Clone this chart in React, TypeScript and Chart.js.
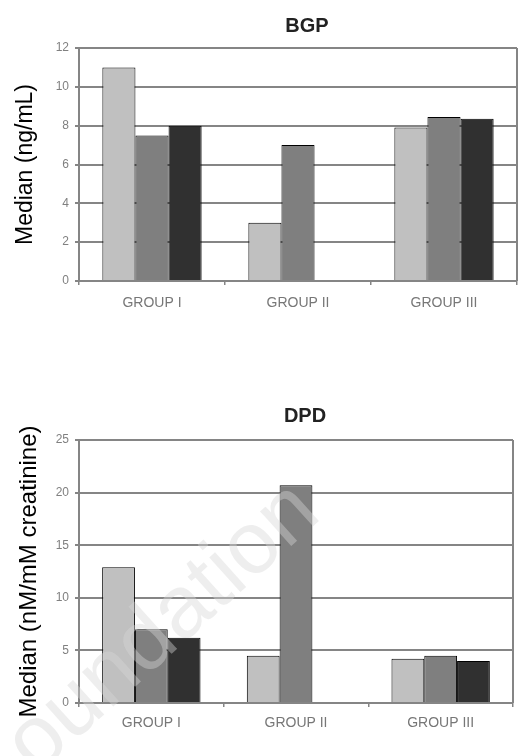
import React, { useEffect, useRef } from "react";
import { Chart, registerables } from "chart.js";

Chart.register(...registerables);

// ---- data ----
const categories = ["GROUP I", "GROUP II", "GROUP III"];

const bgpTitle = "BGP";
const bgpAxisTitle = "Median (ng/mL)";
const bgpLight = [11, 3, 7.9];
const bgpMid = [7.5, 7, 8.45];
const bgpDark = [8, null, 8.35];
const bgpMax = 12;
const bgpStep = 2;

const dpdTitle = "DPD";
const dpdAxisTitle = "Median (nM/mM creatinine)";
const dpdLight = [12.9, 4.5, 4.2];
const dpdMid = [7, 20.7, 4.5];
const dpdDark = [6.2, null, 4.0];
const dpdMax = 25;
const dpdStep = 5;

const watermarkText = "Foundation";

const FONT = "'Liberation Sans', Arial, sans-serif";
const GRID = "#858585";
const COLORS = ["#c0c0c0", "#7f7f7f", "#303030"];

type Opts = {
  title: string;
  yTitle: string;
  yTitleSize: number;
  yTitlePad: number;
  light: (number | null)[];
  mid: (number | null)[];
  dark: (number | null)[];
  max: number;
  step: number;
  height: number;
  padTop: number;
  padRight: number;
  plotBottom: number;
  titleY: number;
  xTickPad: number;
  watermark: boolean;
};

function makeConfig(o: Opts): any {
  const titlePlugin = {
    id: "customTitle",
    afterDraw(chart: any) {
      const { ctx, chartArea } = chart;
      ctx.save();
      ctx.font = `bold 20px ${FONT}`;
      ctx.fillStyle = "#222";
      ctx.textAlign = "center";
      ctx.textBaseline = "middle";
      ctx.fillText(o.title, (chartArea.left + chartArea.right) / 2 + 9, o.titleY);
      ctx.restore();
    },
  };
  const borderPlugin = {
    id: "rightBorder",
    afterDatasetsDraw(chart: any) {
      const { ctx, chartArea } = chart;
      ctx.save();
      ctx.strokeStyle = GRID;
      ctx.lineWidth = 2;
      ctx.beginPath();
      ctx.moveTo(chartArea.right, chartArea.top);
      ctx.lineTo(chartArea.right, chartArea.bottom);
      ctx.stroke();
      ctx.restore();
    },
  };
  const watermarkPlugin = {
    id: "watermark",
    afterDraw(chart: any) {
      if (!o.watermark) return;
      const { ctx } = chart;
      ctx.save();
      ctx.translate(-4, 432);
      ctx.rotate((-42 * Math.PI) / 180);
      ctx.font = `88px ${FONT}`;
      ctx.fillStyle = "rgba(215,215,215,0.42)";
      ctx.textAlign = "left";
      ctx.textBaseline = "alphabetic";
      ctx.fillText(watermarkText, 0, 0);
      ctx.restore();
    },
  };
  const ds = (data: (number | null)[], i: number) => ({
    data,
    backgroundColor: COLORS[i],
    borderColor: "#000",
    borderWidth: 1,
    barPercentage: 1,
    categoryPercentage: 0.68,
  });
  return {
    type: "bar",
    data: {
      labels: categories,
      datasets: [ds(o.light, 0), ds(o.mid, 1), ds(o.dark, 2)],
    },
    options: {
      responsive: false,
      animation: false,
      devicePixelRatio: 1,
      layout: { padding: { top: o.padTop, right: o.padRight, left: 0, bottom: 0 } },
      plugins: {
        legend: { display: false },
        title: { display: false },
        tooltip: { enabled: false },
      },
      scales: {
        x: {
          grid: {
            display: true,
            drawOnChartArea: false,
            drawTicks: true,
            tickLength: 4,
            color: GRID,
            lineWidth: 1.5,
          },
          border: { display: true, color: GRID, width: 2 },
          ticks: {
            font: { family: FONT, size: 14 },
            color: "#777",
            padding: o.xTickPad,
          },
          afterFit(scale: any) {
            scale.height = o.height - o.plotBottom;
          },
        },
        y: {
          min: 0,
          max: o.max,
          ticks: {
            stepSize: o.step,
            font: { family: FONT, size: 12 },
            color: "#808080",
            padding: 6,
          },
          grid: { color: GRID, lineWidth: 2, tickLength: 4 },
          border: { display: true, color: GRID, width: 2 },
          title: {
            display: true,
            text: o.yTitle,
            font: { family: FONT, size: o.yTitleSize },
            color: "#000",
            padding: { top: o.yTitlePad, bottom: 0 },
          },
          afterFit(scale: any) {
            scale.width = 79;
          },
        },
      },
    },
    plugins: [titlePlugin, borderPlugin, watermarkPlugin],
  };
}

function BarPanel({ opts, top }: { opts: Opts; top: number }) {
  const ref = useRef<HTMLCanvasElement | null>(null);
  useEffect(() => {
    if (!ref.current) return;
    const chart = new Chart(ref.current, makeConfig(opts));
    return () => chart.destroy();
  }, []);
  return (
    <canvas
      ref={ref}
      width={518}
      height={opts.height}
      style={{ position: "absolute", left: 0, top, width: 518, height: opts.height }}
    />
  );
}

export default function App() {
  const top: Opts = {
    title: bgpTitle,
    yTitle: bgpAxisTitle,
    yTitleSize: 23,
    yTitlePad: 12,
    light: bgpLight,
    mid: bgpMid,
    dark: bgpDark,
    max: bgpMax,
    step: bgpStep,
    height: 340,
    padTop: 48,
    padRight: 1,
    plotBottom: 281,
    titleY: 26,
    xTickPad: 10,
    watermark: false,
  };
  const bottom: Opts = {
    title: dpdTitle,
    yTitle: dpdAxisTitle,
    yTitleSize: 24,
    yTitlePad: 15,
    light: dpdLight,
    mid: dpdMid,
    dark: dpdDark,
    max: dpdMax,
    step: dpdStep,
    height: 376,
    padTop: 60,
    padRight: 5,
    plotBottom: 323,
    titleY: 36,
    xTickPad: 8,
    watermark: true,
  };
  return (
    <div style={{ position: "absolute", left: 0, top: 0, width: 518, height: 756, background: "#fff", overflow: "hidden" }}>
      <BarPanel opts={top} top={0} />
      <BarPanel opts={bottom} top={380} />
    </div>
  );
}
